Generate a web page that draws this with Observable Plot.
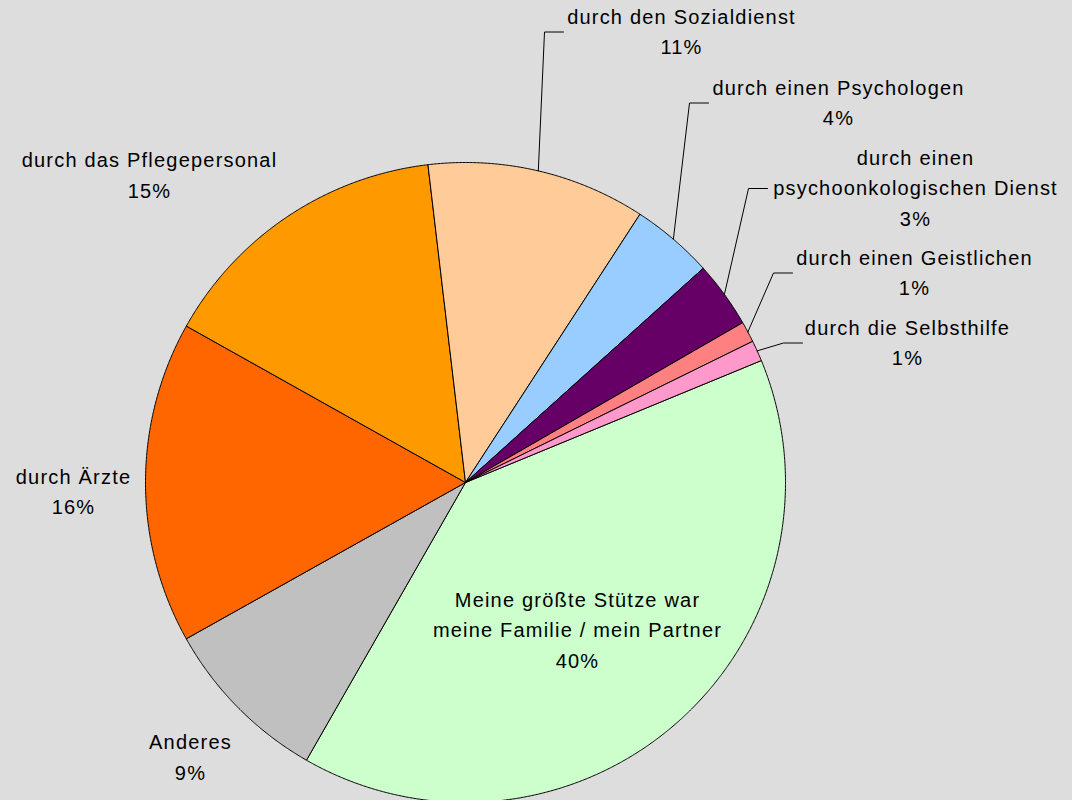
<!DOCTYPE html>
<html>
<head>
<meta charset="utf-8">
<script src="https://cdn.jsdelivr.net/npm/d3@7"></script>
<script src="https://cdn.jsdelivr.net/npm/@observablehq/plot@0.6"></script>
<style>
  html, body { margin: 0; padding: 0; background: #DDDDDD; }
  svg text { letter-spacing: 1.2px; }
</style>
</head>
<body>
<script>
// ---- data (clockwise order) ----
const categories = [
  "Familie / Partner", "Anderes", "Ärzte", "Pflegepersonal", "Sozialdienst",
  "Psychologe", "Psychoonkologischer Dienst", "Geistlicher", "Selbsthilfe"
];
const categoryLabels = [
  "Meine größte Stütze war\nmeine Familie / mein Partner",
  "Anderes",
  "durch Ärzte",
  "durch das Pflegepersonal",
  "durch den Sozialdienst",
  "durch einen Psychologen",
  "durch einen\npsychoonkologischen Dienst",
  "durch einen Geistlichen",
  "durch die Selbsthilfe"
];
const shares = [39.5, 8.6, 16.25, 15.0, 11.05, 4.15, 3.35, 1.05, 1.05];
const colors = ["#CCFFCC", "#C0C0C0", "#FF6600", "#FF9900", "#FFCC99", "#99CCFF", "#660066", "#FF8080", "#FF99CC"];

// ---- layout ----
const W = 1072, H = 800;
const cx = 465, cy = 482, R = 320;
const startDeg = 67.6;
// label block centres (page px) and leader end x (null = no leader)
const labelX = [577, 190, 73, 149, 681, 838, 915, 914, 907];
const labelY = [630, 757, 491.5, 175, 31.5, 102.5, 188, 272.5, 342.5];
const leaderEndX = [null, null, null, null, 563, 708, 767, 792, 802];
const leaderElbow = 19;

const rad = Math.PI / 180;
const arcs = d3.pie().sort(null).value(d => d)
  .startAngle(startDeg * rad).endAngle(startDeg * rad + 2 * Math.PI)(shares);

const pt = (a, r) => [cx + r * Math.sin(a), cy - r * Math.cos(a)];

const slicePts = [];
arcs.forEach((a, i) => {
  const name = categories[i];
  slicePts.push({name, x: cx, y: cy});
  const n = Math.max(2, Math.ceil((a.endAngle - a.startAngle) / (0.25 * rad)));
  for (let k = 0; k <= n; k++) {
    const t = a.startAngle + (a.endAngle - a.startAngle) * k / n;
    const [x, y] = pt(t, R);
    slicePts.push({name, x, y});
  }
  slicePts.push({name, x: cx, y: cy});
});

const leaderPts = [];
arcs.forEach((a, i) => {
  if (leaderEndX[i] == null) return;
  const mid = (a.startAngle + a.endAngle) / 2;
  const [x0, y0] = pt(mid, R);
  const name = categories[i];
  leaderPts.push({name, x: x0, y: y0});
  leaderPts.push({name, x: leaderEndX[i] - leaderElbow, y: labelY[i]});
  leaderPts.push({name, x: leaderEndX[i], y: labelY[i]});
});

const labelRows = arcs.map((a, i) => ({
  x: labelX[i], y: labelY[i],
  text: categoryLabels[i] + "\n" + Math.round(shares[i]) + "%"
}));

const chart = Plot.plot({
  width: W, height: H,
  margin: 0,
  x: {domain: [0, W], range: [0, W], axis: null},
  y: {domain: [0, H], range: [0, H], axis: null},
  color: {domain: categories, range: colors},
  style: {background: "transparent", fontFamily: "'Liberation Sans', Arial, sans-serif"},
  marks: [
    Plot.line(slicePts, {x: "x", y: "y", z: "name", fill: "name", stroke: "#000", strokeWidth: 1, strokeLinejoin: "round"}),
    Plot.line(leaderPts, {x: "x", y: "y", z: "name", stroke: "#000", strokeWidth: 1}),
    Plot.text(labelRows, {
      x: "x", y: "y", text: "text", dy: -3,
      fontSize: 20, lineHeight: 1.525, lineAnchor: "middle", textAnchor: "middle",
      fill: "#000", fontFamily: "'Liberation Sans', Arial, sans-serif"
    })
  ]
});
document.body.append(chart);
</script>
</body>
</html>
